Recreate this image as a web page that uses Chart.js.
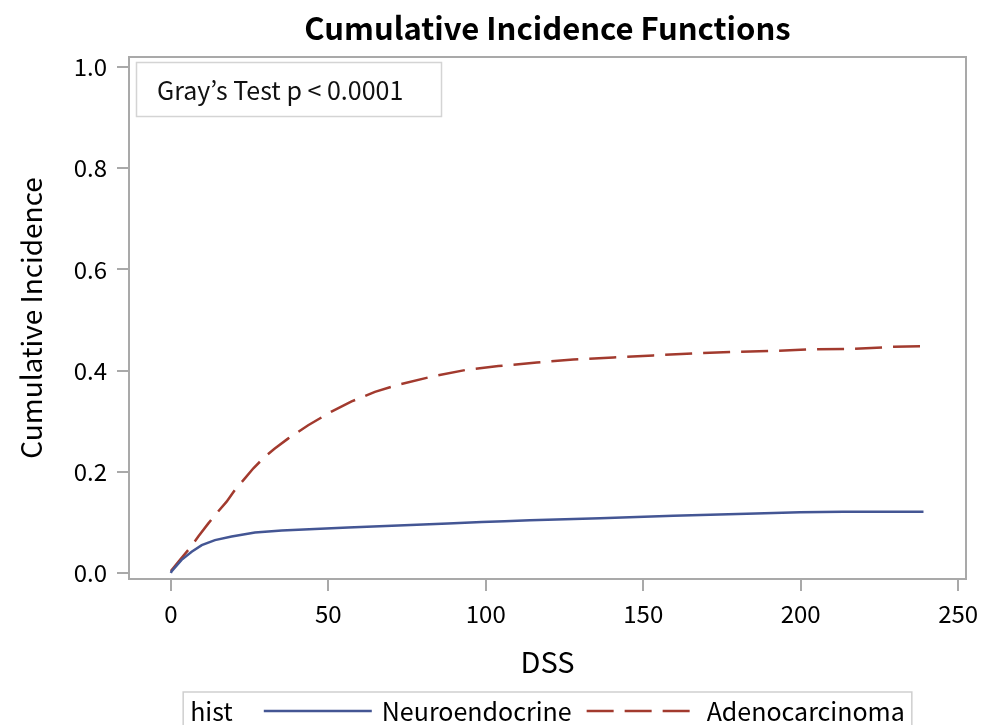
<!DOCTYPE html>
<html>
<head>
<meta charset="utf-8">
<script src="https://cdn.jsdelivr.net/npm/chart.js@4/dist/chart.umd.min.js"></script>
<style>
  html, body { margin: 0; padding: 0; background: #fff; }
  canvas { display: block; }
</style>
</head>
<body>
<canvas id="cifChart" width="991" height="725"></canvas>
<script>
// values
const neuroTime = [0, 0.2, 3.4, 6.6, 9.8, 14, 19.3, 26.7, 35.2, 45.7, 56.3, 72.2, 88, 98.7, 106, 114, 136.3, 159.6, 182.9, 199.8, 213.5, 239];
const neuroCif  = [0, 0.003, 0.026, 0.042, 0.055, 0.065, 0.072, 0.080, 0.084, 0.087, 0.090, 0.094, 0.098, 0.101, 0.102, 0.104, 0.108, 0.113, 0.117, 0.120, 0.121, 0.121];
const adenoTime = [0, 2.9, 6, 8.7, 11.9, 14.5, 17.7, 20.3, 23.5, 26.2, 29.9, 33, 37.3, 43.6, 51, 57.4, 64.8, 72.2, 82.8, 93.4, 104, 116.2, 127.8, 140.5, 153.2, 165.9, 178.6, 191.3, 204, 216.8, 229.5, 239];
const adenoCif  = [0.004, 0.026, 0.049, 0.072, 0.098, 0.118, 0.141, 0.164, 0.187, 0.207, 0.230, 0.246, 0.266, 0.292, 0.319, 0.339, 0.358, 0.372, 0.388, 0.401, 0.409, 0.416, 0.422, 0.426, 0.430, 0.434, 0.437, 0.439, 0.442, 0.443, 0.447, 0.448];
const seriesNames = ["Neuroendocrine", "Adenocarcinoma"];
const xTicks = [0, 50, 100, 150, 200, 250];
const yTicks = [0, 0.2, 0.4, 0.6, 0.8, 1.0];
const chartTitle = "Cumulative Incidence Functions";
const insetText = "Gray\u2019s Test p < 0.0001";
const legendTitle = "hist";

const FONT = "'Noto Sans CJK JP', 'Noto Sans', sans-serif";
const frameColor = "#a9a9a9";

function toPoints(ts, vs) {
  return ts.map((t, i) => ({ x: t, y: vs[i] }));
}

const extras = {
  id: 'extras',
  beforeDatasetsDraw(chart) {
    const ctx = chart.ctx;
    ctx.save();
    // inset box
    ctx.fillStyle = '#fff';
    ctx.strokeStyle = '#d4d4d4';
    ctx.lineWidth = 1.5;
    ctx.fillRect(136, 62, 305, 54);
    ctx.strokeRect(136.5, 62.5, 305, 54);
    ctx.fillStyle = '#111';
    ctx.font = "25px " + FONT;
    ctx.textBaseline = 'middle';
    ctx.textAlign = 'left';
    ctx.fillText(insetText, 157, 90);
    ctx.restore();
  },
  afterDatasetsDraw(chart) {
    const ctx = chart.ctx;
    const a = chart.chartArea;
    ctx.save();
    // frame
    ctx.strokeStyle = frameColor;
    ctx.lineWidth = 2;
    ctx.strokeRect(a.left, a.top, a.right - a.left, a.bottom - a.top);

    // title
    const cx = (a.left + a.right) / 2;
    ctx.fillStyle = '#000';
    ctx.font = "bold 31px " + FONT;
    ctx.textAlign = 'center';
    ctx.textBaseline = 'middle';
    ctx.fillText(chartTitle, cx, 28);

    // legend
    ctx.font = "25px " + FONT;
    const ds = chart.data.datasets;
    const lineLen = 108;
    const wTitle = ctx.measureText(legendTitle).width;
    const w0 = ctx.measureText(ds[0].label).width;
    const w1 = ctx.measureText(ds[1].label).width;
    const inner = wTitle + 31 + lineLen + 10 + w0 + 15 + lineLen + 12 + w1;
    const boxW = inner + 14;
    const boxX = cx - boxW / 2;
    const ly = 711;
    ctx.strokeStyle = '#cfcfcf';
    ctx.lineWidth = 1.5;
    ctx.strokeRect(boxX, 692, boxW, 50);
    ctx.textAlign = 'left';
    ctx.fillStyle = '#000';
    let x = boxX + 7;
    ctx.fillText(legendTitle, x, ly);
    x += wTitle + 31;
    ctx.lineWidth = 2.5;
    ctx.strokeStyle = ds[0].borderColor;
    ctx.setLineDash([]);
    ctx.beginPath(); ctx.moveTo(x, ly); ctx.lineTo(x + lineLen, ly); ctx.stroke();
    x += lineLen + 10;
    ctx.fillText(ds[0].label, x, ly);
    x += w0 + 15;
    ctx.strokeStyle = ds[1].borderColor;
    ctx.setLineDash(ds[1].borderDash);
    ctx.beginPath(); ctx.moveTo(x, ly); ctx.lineTo(x + lineLen, ly); ctx.stroke();
    ctx.setLineDash([]);
    x += lineLen + 12;
    ctx.fillText(ds[1].label, x, ly);
    ctx.restore();
  }
};

const ctx = document.getElementById('cifChart').getContext('2d');
const cifChart = new Chart(ctx, {
  type: 'line',
  data: {
    datasets: [{
      label: seriesNames[0],
      data: toPoints(neuroTime, neuroCif),
      borderColor: '#445694',
      borderWidth: 2.5,
      pointRadius: 0,
      tension: 0,
      fill: false
    }, {
      label: seriesNames[1],
      data: toPoints(adenoTime, adenoCif),
      borderColor: '#A23A2E',
      borderWidth: 2.5,
      borderDash: [27, 11],
      pointRadius: 0,
      tension: 0,
      fill: false
    }]
  },
  options: {
    responsive: false,
    animation: false,
    layout: { padding: { left: 0, right: 25, top: 57, bottom: 46 } },
    plugins: {
      legend: { display: false },
      title: { display: false },
      tooltip: { enabled: false }
    },
    scales: {
      x: {
        type: 'linear',
        min: -13.3,
        max: 252.5,
        afterBuildTicks: s => { s.ticks = xTicks.map(v => ({ value: v })); },
        afterFit: s => { s.height = 100; },
        grid: { drawOnChartArea: false, drawTicks: true, tickLength: 12, color: frameColor, lineWidth: 2 },
        border: { display: false },
        ticks: { color: '#000', padding: 8, font: { family: FONT, size: 24 }, maxRotation: 0 },
        title: { display: true, text: 'DSS', color: '#000', font: { family: FONT, size: 29, lineHeight: 1.2 }, padding: { top: 0, bottom: 0 } }
      },
      y: {
        type: 'linear',
        min: -0.0119,
        max: 1.0198,
        afterBuildTicks: s => { s.ticks = yTicks.map(v => ({ value: v })); },
        afterFit: s => { s.width = 129; },
        grid: { drawOnChartArea: false, drawTicks: true, tickLength: 12, color: frameColor, lineWidth: 2 },
        border: { display: false },
        ticks: { color: '#000', padding: 10, font: { family: FONT, size: 24 }, callback: v => v.toFixed(1) },
        title: { display: true, text: 'Cumulative Incidence', color: '#000', font: { family: FONT, size: 28, lineHeight: 1.2 }, padding: { top: 15, bottom: 0 } }
      }
    }
  },
  plugins: [extras]
});
</script>
</body>
</html>
